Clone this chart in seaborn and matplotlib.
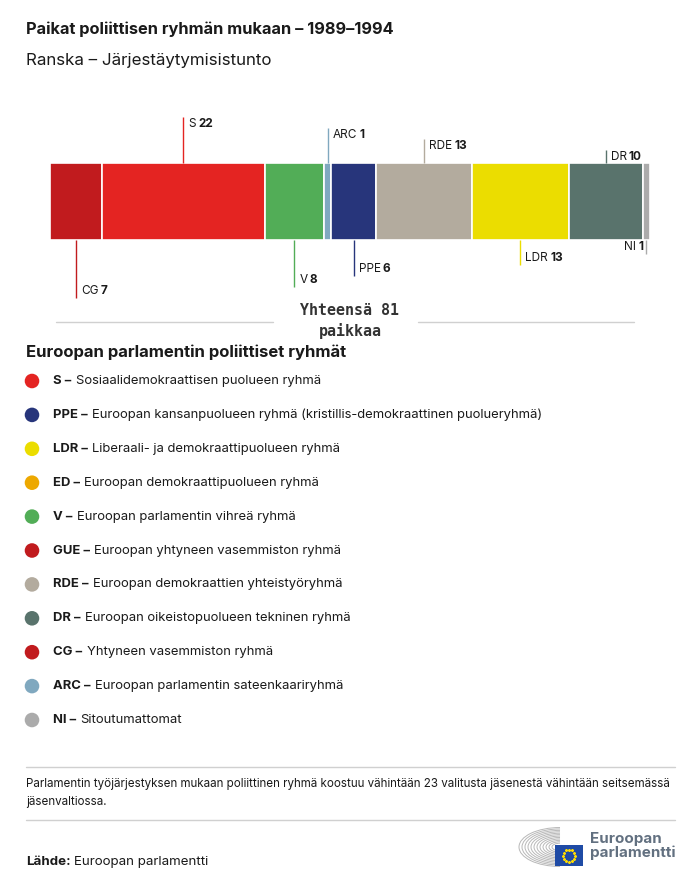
import matplotlib
matplotlib.use("Agg")
import matplotlib.pyplot as plt
import matplotlib.transforms as mtransforms
from matplotlib.patches import Arc, Rectangle
import numpy as np
import pandas as pd
import seaborn as sns

# --- data -------------------------------------------------------------------
TITLE = "Paikat poliittisen ryhmän mukaan – 1989–1994"
SUBTITLE = "Ranska – Järjestäytymisistunto"
COUNTRY = "Ranska"

GROUPS = ["CG", "S", "V", "ARC", "PPE", "RDE", "LDR", "DR", "NI"]
SEATS = [7, 22, 8, 1, 6, 13, 13, 10, 1]
TOTAL_TEXT = "Yhteensä 81\npaikkaa"

LEGEND_ABBR = ["S", "PPE", "LDR", "ED", "V", "GUE", "RDE", "DR", "CG", "ARC", "NI"]
LEGEND_NAMES = [
    "Sosiaalidemokraattisen puolueen ryhmä",
    "Euroopan kansanpuolueen ryhmä (kristillis-demokraattinen puolueryhmä)",
    "Liberaali- ja demokraattipuolueen ryhmä",
    "Euroopan demokraattipuolueen ryhmä",
    "Euroopan parlamentin vihreä ryhmä",
    "Euroopan yhtyneen vasemmiston ryhmä",
    "Euroopan demokraattien yhteistyöryhmä",
    "Euroopan oikeistopuolueen tekninen ryhmä",
    "Yhtyneen vasemmiston ryhmä",
    "Euroopan parlamentin sateenkaariryhmä",
    "Sitoutumattomat",
]
LEGEND_TITLE = "Euroopan parlamentin poliittiset ryhmät"
NOTE = ("Parlamentin työjärjestyksen mukaan poliittinen ryhmä koostuu vähintään 23 "
        "valitusta jäsenestä vähintään seitsemässä\njäsenvaltiossa.")
SOURCE_BOLD = "Lähde:"
SOURCE = "Euroopan parlamentti"

# --- style ------------------------------------------------------------------
COLORS = {
    "S": "#E42422", "PPE": "#27357B", "LDR": "#EBDD00", "ED": "#EDA800",
    "V": "#52AD57", "GUE": "#C11B1E", "RDE": "#B3AB9E", "DR": "#59736C",
    "CG": "#C11B1E", "ARC": "#80A8BF", "NI": "#ABABAB",
}
LABEL_ABOVE = [False, True, False, True, False, True, False, True, False]
LEAD_PX = [58, 46, 47, 35, 36, 24, 25, 13, 14]
TEXT_COLOR = "#1a1a1a"
RULE_COLOR = "#d0d0d0"
W, H = 700, 888
BAR_TOP, BAR_BOT = 163, 240
BAR_PX = BAR_BOT - BAR_TOP
LABEL_FS = 8.5
LEGEND_FS = 9.4

sns.set_theme(style="white")
plt.rcParams["font.family"] = ["Inter", "DejaVu Sans"]
plt.rcParams["text.color"] = TEXT_COLOR

fig = plt.figure(figsize=(W / 100, H / 100), dpi=100)
fig.patch.set_facecolor("white")

# full-figure overlay in pixel coordinates for the page furniture
ov = fig.add_axes([0, 0, 1, 1], zorder=0)
ov.set_xlim(0, W)
ov.set_ylim(H, 0)
ov.axis("off")

ov.text(26, 29, TITLE, fontsize=11.8, fontweight="bold", va="center")
ov.text(26, 60, SUBTITLE, fontsize=12.2, va="center")

# --- stacked bar ------------------------------------------------------------
df = pd.DataFrame({"group": GROUPS, "seats": SEATS})
df["left"] = df["seats"].cumsum() - df["seats"]
df["mid"] = df["left"] + df["seats"] / 2
total = df["seats"].sum()

ax = fig.add_axes([50 / W, 1 - BAR_BOT / H, 600 / W, BAR_PX / H], zorder=2)
for _, row in df.iterrows():
    sns.barplot(x=[row["seats"]], y=[COUNTRY], orient="h", color=COLORS[row["group"]],
                saturation=1, width=1, errorbar=None, left=row["left"],
                edgecolor="white", linewidth=1.2, ax=ax)
ax.set_xlim(0, total)
ax.set_ylim(0.5, -0.5)
ax.axis("off")

trans = mtransforms.blended_transform_factory(ax.transData, ax.transAxes)
for (_, row), above, lead in zip(df.iterrows(), LABEL_ABOVE, LEAD_PX):
    col = COLORS[row["group"]]
    if above:
        y0, y1 = 1.0, 1.0 + lead / BAR_PX
        dy = -7 * 0.72
    else:
        y0, y1 = 0.0, -lead / BAR_PX
        dy = 7 * 0.72
    ax.plot([row["mid"], row["mid"]], [y0, y1], transform=trans, color=col,
            lw=1, clip_on=False, solid_capstyle="butt")
    if row["group"] == "NI":
        t2 = ax.annotate(str(row["seats"]), xy=(row["mid"], y1), xycoords=trans,
                         xytext=(-3 * 0.72, dy), textcoords="offset points",
                         ha="right", va="center", fontsize=LABEL_FS, fontweight="bold")
        ax.annotate(row["group"], xy=(0, 0.5), xycoords=t2, xytext=(-1.5, 0),
                    textcoords="offset points", ha="right", va="center", fontsize=LABEL_FS)
    else:
        t1 = ax.annotate(row["group"], xy=(row["mid"], y1), xycoords=trans,
                         xytext=(5 * 0.72, dy), textcoords="offset points",
                         ha="left", va="center", fontsize=LABEL_FS)
        ax.annotate(str(row["seats"]), xy=(1, 0.5), xycoords=t1, xytext=(1.5, 0),
                    textcoords="offset points", ha="left", va="center",
                    fontsize=LABEL_FS, fontweight="bold")

# total
ov.text(350, 321, TOTAL_TEXT, ha="center", va="center", fontsize=10.8,
        fontweight="bold", family="DejaVu Sans Mono", color="#333333", linespacing=1.35)
ov.plot([56, 273], [322, 322], color=RULE_COLOR, lw=1)
ov.plot([418, 634], [322, 322], color=RULE_COLOR, lw=1)

# --- legend -----------------------------------------------------------------
ov.text(26, 352, LEGEND_TITLE, fontsize=12, fontweight="bold", va="center")
leg_y = 381 + np.arange(len(LEGEND_ABBR)) * 33.9
ov.scatter(np.full(len(leg_y), 32), leg_y, s=110,
           c=[COLORS[a] for a in LEGEND_ABBR], linewidths=0)
for y, abbr, name in zip(leg_y, LEGEND_ABBR, LEGEND_NAMES):
    tb = ov.text(53, y, f"{abbr} –", fontsize=LEGEND_FS, fontweight="bold", va="center")
    ov.annotate(name, xy=(1, 0.5), xycoords=tb, xytext=(3.2, 0),
                textcoords="offset points", ha="left", va="center", fontsize=LEGEND_FS)

# --- footer -----------------------------------------------------------------
ov.plot([26, 675], [767, 767], color=RULE_COLOR, lw=1)
ov.text(26, 793, NOTE, fontsize=8.35, va="center", linespacing=1.6)
ov.plot([26, 675], [820, 820], color=RULE_COLOR, lw=1)
ts = ov.text(26, 862, SOURCE_BOLD, fontsize=9.6, fontweight="bold", va="center")
ov.annotate(SOURCE, xy=(1, 0.5), xycoords=ts, xytext=(2.5, 0),
            textcoords="offset points", ha="left", va="center", fontsize=9.6)

# logo: hemicycle arcs + flag
for r in range(8, 44, 3):
    ov.add_patch(Arc((560, 847), 2 * r, r * 0.95, theta1=90, theta2=270,
                     color="#b8b8b8", lw=0.7))
ov.add_patch(Rectangle((555, 845), 28, 21, facecolor="#1f4ba5", edgecolor="none"))
ang = np.linspace(0, 2 * np.pi, 12, endpoint=False)
ov.scatter(569 + 6 * np.cos(ang), 855.5 + 6 * np.sin(ang), s=1.5, c="#ffdd00", marker="*")
ov.text(590, 846, "Euroopan\nparlamentti", fontsize=10.9, fontweight="bold",
        color="#627080", va="center", linespacing=1.0)

fig.savefig("out.png", dpi=100, facecolor="white")
